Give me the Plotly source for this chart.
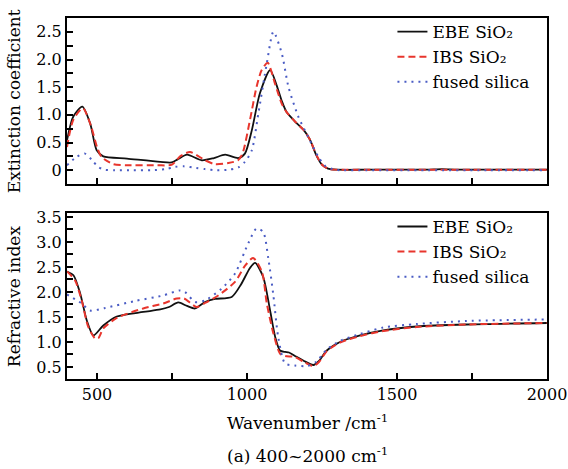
import plotly.graph_objects as go
from plotly.subplots import make_subplots

# ---- data ----
ebe_k_x = [400, 421, 451, 477, 499, 521, 600, 711, 749, 770, 800, 849, 890, 927, 971, 993, 1016, 1043, 1077, 1104, 1116, 1132, 1160, 1190, 1210, 1232, 1250, 1270, 1300, 1400, 1500, 1600, 1650, 1700, 1850, 2000]
ebe_k_y = [0.54, 0.97, 1.15, 0.85, 0.36, 0.25, 0.21, 0.15, 0.14, 0.20, 0.28, 0.18, 0.22, 0.28, 0.22, 0.30, 0.72, 1.39, 1.81, 1.45, 1.25, 1.05, 0.88, 0.72, 0.55, 0.26, 0.10, 0.03, 0.01, 0.01, 0.01, 0.01, 0.02, 0.01, 0.01, 0.01]

ibs_k_x = [400, 421, 453, 480, 500, 515, 554, 600, 700, 750, 777, 810, 860, 893, 938, 970, 985, 1010, 1032, 1049, 1069, 1093, 1116, 1132, 1160, 1190, 1210, 1232, 1250, 1275, 1300, 1400, 1600, 1800, 2000]
ibs_k_y = [0.42, 0.91, 1.12, 0.80, 0.42, 0.24, 0.11, 0.09, 0.09, 0.10, 0.25, 0.33, 0.18, 0.11, 0.13, 0.18, 0.30, 0.91, 1.51, 1.81, 1.94, 1.57, 1.20, 1.05, 0.88, 0.72, 0.55, 0.27, 0.10, 0.02, 0.01, 0.01, 0.01, 0.01, 0.01]

fs_k_x = [400, 432, 460, 482, 504, 525, 560, 620, 680, 730, 760, 790, 830, 860, 900, 940, 971, 993, 1016, 1038, 1066, 1088, 1116, 1138, 1171, 1204, 1238, 1260, 1285, 1310, 1400, 1600, 1800, 2000]
fs_k_y = [0.09, 0.24, 0.30, 0.19, 0.06, 0.01, 0.0, 0.0, 0.0, 0.02, 0.06, 0.07, 0.04, 0.02, 0.0, 0.01, 0.05, 0.15, 0.36, 1.03, 1.93, 2.50, 2.11, 1.51, 0.97, 0.60, 0.24, 0.08, 0.02, 0.0, 0.0, 0.0, 0.0, 0.0]

ebe_n_x = [400, 422, 444, 466, 488, 521, 566, 654, 711, 740, 771, 800, 827, 860, 893, 949, 980, 1010, 1027, 1054, 1077, 1094, 1110, 1127, 1140, 1160, 1190, 1221, 1240, 1266, 1310, 1377, 1454, 1566, 1732, 2000]
ebe_n_y = [2.41, 2.33, 1.97, 1.43, 1.13, 1.33, 1.51, 1.60, 1.65, 1.70, 1.79, 1.72, 1.67, 1.80, 1.86, 1.90, 2.15, 2.48, 2.58, 2.30, 1.63, 1.10, 0.83, 0.80, 0.79, 0.72, 0.62, 0.54, 0.62, 0.83, 1.00, 1.13, 1.23, 1.31, 1.35, 1.38]

ibs_n_x = [400, 427, 449, 471, 494, 505, 521, 566, 654, 721, 766, 790, 832, 860, 904, 960, 993, 1020, 1050, 1066, 1088, 1110, 1127, 1160, 1190, 1221, 1240, 1266, 1310, 1377, 1454, 1566, 1732, 2000]
ibs_n_y = [2.41, 2.23, 1.83, 1.30, 1.07, 1.08, 1.27, 1.48, 1.67, 1.77, 1.87, 1.87, 1.70, 1.78, 1.93, 2.20, 2.52, 2.68, 2.40, 1.77, 1.17, 0.77, 0.72, 0.70, 0.60, 0.52, 0.60, 0.82, 0.99, 1.12, 1.22, 1.30, 1.35, 1.38]

fs_n_x = [400, 449, 477, 527, 627, 721, 775, 793, 827, 860, 916, 960, 1004, 1032, 1054, 1071, 1088, 1104, 1127, 1160, 1200, 1230, 1266, 1310, 1377, 1454, 1566, 1732, 2000]
fs_n_y = [1.95, 1.77, 1.63, 1.68, 1.82, 1.93, 2.03, 2.00, 1.80, 1.83, 2.07, 2.37, 2.97, 3.27, 3.20, 2.67, 1.93, 1.10, 0.57, 0.53, 0.52, 0.60, 0.85, 1.02, 1.16, 1.29, 1.36, 1.42, 1.45]

series_names = ["EBE SiO\u2082", "IBS SiO\u2082", "fused silica"]

x_tickvals = [500, 750, 1000, 1250, 1500, 1750, 2000]
x_ticktext = ["500", "", "1000", "", "1500", "", "2000"]
k_tickvals = [0, 0.25, 0.5, 0.75, 1.0, 1.25, 1.5, 1.75, 2.0, 2.25, 2.5]
k_ticktext = ["0", "", "0.5", "", "1.0", "", "1.5", "", "2.0", "", "2.5"]
n_tickvals = [0.5, 0.75, 1.0, 1.25, 1.5, 1.75, 2.0, 2.25, 2.5, 2.75, 3.0, 3.25, 3.5]
n_ticktext = ["0.5", "", "1.0", "", "1.5", "", "2.0", "", "2.5", "", "3.0", "", "3.5"]

FONT = "DejaVu Serif"
BLACK = "#111111"
RED = "#e8352c"
BLUE = "#4a5cc4"

fig = make_subplots(rows=2, cols=1, shared_xaxes=False)

styles = [
    dict(color=BLACK, width=1.8, dash="solid"),
    dict(color=RED, width=2, dash="7px,4px"),
    dict(color=BLUE, width=2, dash="2px,5px"),
]

top = [(ebe_k_x, ebe_k_y), (ibs_k_x, ibs_k_y), (fs_k_x, fs_k_y)]
bot = [(ebe_n_x, ebe_n_y), (ibs_n_x, ibs_n_y), (fs_n_x, fs_n_y)]

for (xs, ys), name, st in zip(top, series_names, styles):
    fig.add_trace(go.Scatter(x=xs, y=ys, mode="lines", name=name,
                             line=dict(shape="spline", smoothing=0.7, **st),
                             legend="legend"), row=1, col=1)
for (xs, ys), name, st in zip(bot, series_names, styles):
    fig.add_trace(go.Scatter(x=xs, y=ys, mode="lines", name=name,
                             line=dict(shape="spline", smoothing=0.7, **st),
                             legend="legend2"), row=2, col=1)

axis_common = dict(showline=True, linecolor="black", linewidth=2, mirror=True,
                   ticks="inside", ticklen=6, tickwidth=1.5, tickcolor="black",
                   showgrid=False, zeroline=False, automargin=False,
                   tickfont=dict(family=FONT, size=16, color="black"))

fig.update_xaxes(range=[400, 2000], tickvals=x_tickvals, ticktext=x_ticktext, **axis_common)
fig.update_xaxes(showticklabels=False, row=1, col=1)
fig.update_yaxes(**axis_common)
fig.update_yaxes(range=[-0.25, 2.75], tickvals=k_tickvals, ticktext=k_ticktext, row=1, col=1)
fig.update_yaxes(range=[0.26, 3.58], tickvals=n_tickvals, ticktext=n_ticktext, row=2, col=1)

fig.update_layout(
    width=568, height=469,
    margin=dict(l=67, r=21, t=18, b=90, autoexpand=False),
    paper_bgcolor="white", plot_bgcolor="white",
    font=dict(family=FONT, size=16, color="black"),
    xaxis=dict(domain=[0, 1]), xaxis2=dict(domain=[0, 1]),
    yaxis=dict(domain=[0.540, 1.0]),
    yaxis2=dict(domain=[0.0, 0.46]),
    legend=dict(x=0.678, y=1.011, xanchor="left", yanchor="top",
                bgcolor="rgba(0,0,0,0)", font=dict(family=FONT, size=17),
                tracegroupgap=0, itemwidth=30),
    legend2=dict(x=0.678, y=0.471, xanchor="left", yanchor="top",
                 bgcolor="rgba(0,0,0,0)", font=dict(family=FONT, size=17),
                 tracegroupgap=0, itemwidth=30),
    annotations=[
        dict(text="Extinction coefficient", textangle=-90, x=-0.11, y=0.77,
             xanchor="center", yanchor="middle",
             xref="paper", yref="paper", showarrow=False,
             font=dict(family=FONT, size=17)),
        dict(text="Refractive index", textangle=-90, x=-0.11, y=0.23,
             xanchor="center", yanchor="middle",
             xref="paper", yref="paper", showarrow=False,
             font=dict(family=FONT, size=17)),
        dict(text="Wavenumber /cm<sup>-1</sup>", x=0.5, y=-0.119,
             xanchor="center", yanchor="middle",
             xref="paper", yref="paper", showarrow=False,
             font=dict(family=FONT, size=17)),
        dict(text="(a) 400~2000 cm<sup>-1</sup>", x=0.5, y=-0.2105,
             xanchor="center", yanchor="middle",
             xref="paper", yref="paper", showarrow=False,
             font=dict(family=FONT, size=17)),
    ],
)

fig.write_html("out.html", config={"displayModeBar": False},
               post_script="document.body.style.margin='0px';document.body.style.overflow='hidden';")
